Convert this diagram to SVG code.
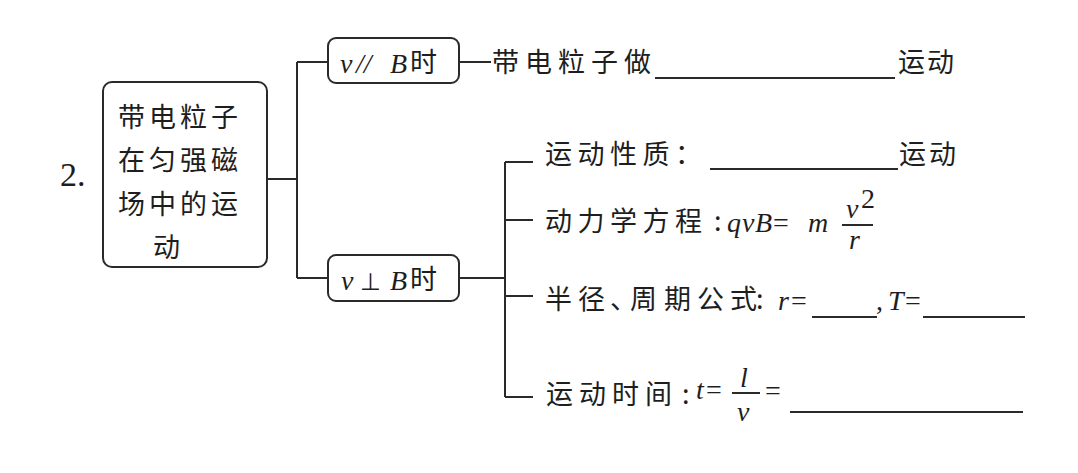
<svg xmlns="http://www.w3.org/2000/svg" width="1078" height="473" viewBox="0 0 1078 473">
<style>
.ln{stroke:#2a2a2a;stroke-width:2;fill:none}
.box{stroke:#2a2a2a;stroke-width:2;fill:#fff}
.cj{font-family:"Noto Sans CJK SC","Noto Sans CJK JP",sans-serif;font-size:27px;fill:#1e1e1e}
.m{font-family:"Liberation Serif",serif;font-style:italic;font-size:28px;fill:#1e1e1e}
.mr{font-family:"Liberation Serif",serif;font-size:28px;fill:#1e1e1e}
.bl{stroke:#2a2a2a;stroke-width:2}
</style>
<rect width="1078" height="473" fill="#fff"/>
<g id="connectors">
<path class="ln" d="M267 179H297M297 62V278M297 62H328M297 278H328"/>
<path class="ln" d="M459 62H491"/>
<path class="ln" d="M459 278H505M505 162V397M505 162H533M505 220H533M505 296H533M505 397H533"/>
</g>
<g id="label-2">
<text x="60" y="186" font-family="Liberation Serif, serif" font-size="34" fill="#1e1e1e">2.</text>
</g>
<g id="node-main">
<rect class="box" x="103" y="82" width="164" height="185" rx="9"/>
<text class="cj" x="118" y="127" letter-spacing="4">带电粒子</text>
<text class="cj" x="118" y="170" letter-spacing="4">在匀强磁</text>
<text class="cj" x="118" y="214" letter-spacing="4">场中的运</text>
<text class="cj" x="153" y="257">动</text>
</g>
<g id="node-parallel">
<rect class="box" x="328" y="38" width="131" height="45" rx="8"/>
<text class="m" x="340" y="73">v</text>
<text class="m" x="356" y="73">//</text>
<text class="m" x="390" y="73">B</text>
<text class="cj" x="410" y="72" font-size="28">时</text>
</g>
<g id="node-perp">
<rect class="box" x="328" y="255" width="131" height="46" rx="8"/>
<text class="m" x="341" y="290">v</text>
<text x="360" y="290" font-family="DejaVu Sans, sans-serif" font-size="24" fill="#1e1e1e">⊥</text>
<text class="m" x="390" y="290">B</text>
<text class="cj" x="410" y="289" font-size="28">时</text>
</g>
<g id="node-parallel-result">
<text class="cj" x="492" y="72" font-size="28" letter-spacing="6">带电粒子做</text>
<line class="bl" x1="655" y1="78" x2="895" y2="78"/>
<text class="cj" x="898" y="72" letter-spacing="2">运动</text>
</g>
<g id="node-nature">
<text class="cj" x="545" y="164" letter-spacing="5.5">运动性质：</text>
<line class="bl" x1="710" y1="169" x2="898" y2="169"/>
<text class="cj" x="899" y="164" letter-spacing="3">运动</text>
</g>
<g id="node-dynamics">
<text class="cj" x="545" y="231" letter-spacing="5.5">动力学方程</text>
<text class="cj" x="714" y="231">:</text>
<text class="m" x="727" y="232">q</text>
<text class="m" x="742" y="232">v</text>
<text class="m" x="755" y="232">B</text>
<text class="mr" x="773" y="232">=</text>
<text class="m" x="808" y="232">m</text>
<text class="m" x="846" y="218" font-size="25">v</text>
<text class="mr" x="861" y="208" font-size="15">2</text>
<line class="bl" x1="842" y1="225" x2="873" y2="225" stroke-width="1.5"/>
<text class="m" x="849" y="249" font-size="25">r</text>
</g>
<g id="node-radius">
<text class="cj" x="545 578 610 630 664 697 730" y="309">半径、周期公式</text>
<text class="cj" x="756" y="309">:</text>
<text class="m" x="778" y="310">r</text>
<text class="mr" x="791" y="310">=</text>
<line class="bl" x1="812" y1="317" x2="877" y2="317"/>
<text class="mr" x="876" y="310">,</text>
<text class="m" x="888" y="310">T</text>
<text class="mr" x="905" y="310">=</text>
<line class="bl" x1="923" y1="317" x2="1025" y2="317"/>
</g>
<g id="node-time">
<text class="cj" x="546" y="404" letter-spacing="6">运动时间</text>
<text class="cj" x="682" y="404">:</text>
<text class="m" x="696" y="399">t</text>
<text class="mr" x="706" y="399">=</text>
<text class="m" x="740" y="387" font-size="26">l</text>
<line class="bl" x1="732" y1="393" x2="760" y2="393" stroke-width="1.5"/>
<text class="m" x="737" y="421" font-size="25">v</text>
<text class="mr" x="765" y="400">=</text>
<line class="bl" x1="790" y1="412" x2="1023" y2="412"/>
</g>
</svg>
